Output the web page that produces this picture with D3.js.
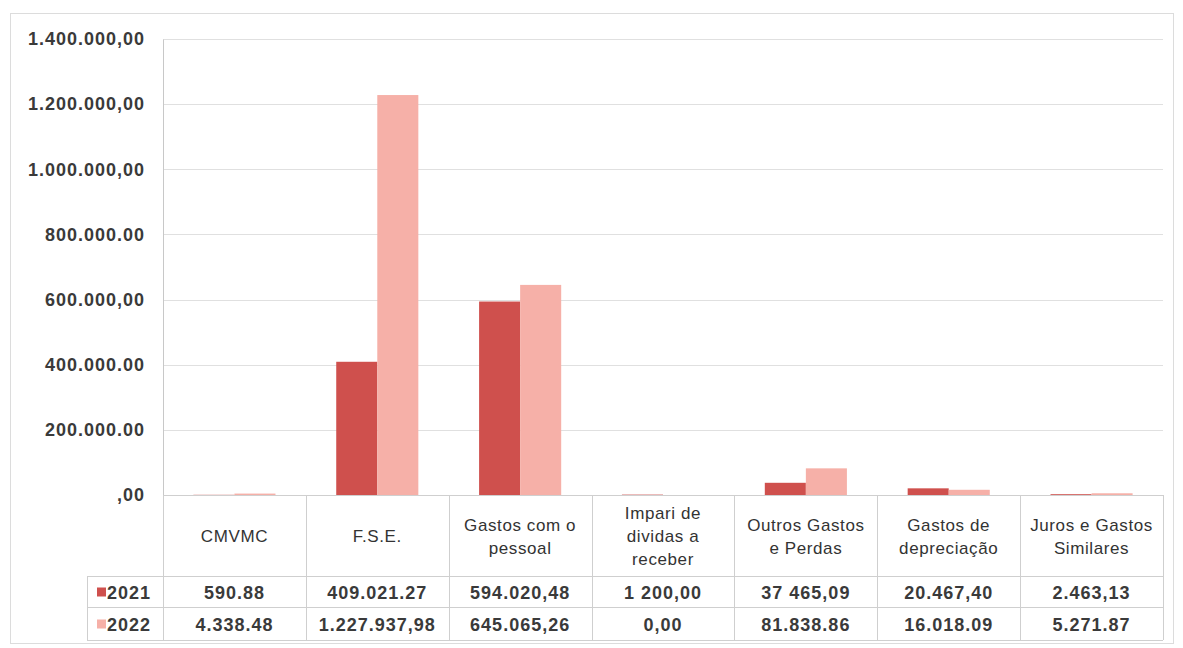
<!DOCTYPE html>
<html><head><meta charset="utf-8">
<script src="https://cdn.jsdelivr.net/npm/d3@7"></script>
<style>body{margin:0;background:#fff}svg{display:block}</style>
</head><body><svg id="c" width="1183" height="648"></svg>
<script>
const categories = ["CMVMC","F.S.E.","Gastos com o\npessoal","Impari de\ndividas a\nreceber","Outros Gastos\ne Perdas","Gastos de\ndepreciação","Juros e Gastos\nSimilares"];
const series = ["2021","2022"];
const values2021 = [590.88, 409021.27, 594020.48, 1200.00, 37465.09, 20467.40, 2463.13];
const values2022 = [4338.48, 1227937.98, 645065.26, 0.00, 81838.86, 16018.09, 5271.87];
const labels2021 = ["590.88","409.021.27","594.020,48","1 200,00","37 465,09","20.467,40","2.463,13"];
const labels2022 = ["4.338.48","1.227.937,98","645.065,26","0,00","81.838.86","16.018.09","5.271.87"];
const yTicks = [0,200000,400000,600000,800000,1000000,1200000,1400000];
const yTickLabels = [",00","200.000.00","400.000.00","600.000,00","800.000.00","1.000.000,00","1.200.000,00","1.400.000,00"];
const colors = ["#cf504d","#f6b0a8"];

const svg = d3.select("#c");
const L=163, R=1163, T=39, B=495;
const y = d3.scaleLinear().domain([0,1400000]).range([B,T]);
const x = d3.scaleBand().domain(categories).range([L,R]).padding(0);
const xs = d3.scaleBand().domain(series).range([0,x.bandwidth()]).paddingInner(0).paddingOuter(0.74);
const FONT="Liberation Sans, Arial, sans-serif";

// outer frame
svg.append("rect").attr("x",10.5).attr("y",13.5).attr("width",1163).attr("height",630)
  .attr("fill","none").attr("stroke","#dcdcdc");

// gridlines
svg.append("g").selectAll("line").data(yTicks.slice(1)).join("line")
  .attr("x1",L).attr("x2",R).attr("y1",d=>Math.round(y(d))+0.5).attr("y2",d=>Math.round(y(d))+0.5)
  .attr("stroke","#e0e0e0").attr("stroke-width",1);

// y axis labels
const yAxis = d3.axisLeft(y).tickValues(yTicks).tickSize(0).tickPadding(18)
  .tickFormat((d,i)=>yTickLabels[i]);
const ga = svg.append("g").attr("transform",`translate(${L},0)`).call(yAxis);
ga.select(".domain").attr("stroke","#c8c8c8");
ga.selectAll("text").attr("font-family",FONT)
  .attr("font-size",18).attr("font-weight","bold").attr("fill","#3a3a3a").attr("letter-spacing","1px");

// bars
const data = categories.map((c,i)=>({c, v:[values2021[i],values2022[i]]}));
const gb = svg.append("g");
data.forEach(d=>{
  series.forEach((s,j)=>{
    gb.append("rect").attr("x",x(d.c)+xs(s)).attr("width",xs.bandwidth())
      .attr("y",y(d.v[j])).attr("height",B-y(d.v[j])).attr("fill",colors[j]);
  });
});

// data table
const rowTop=[495,576,607], rowBot=640, legL=87;
const gt = svg.append("g").attr("stroke","#cfcfcf").attr("fill","none");
gt.append("line").attr("x1",L).attr("x2",R).attr("y1",B+0.5).attr("y2",B+0.5);
[576,607,640].forEach(yy=>gt.append("line").attr("x1",legL).attr("x2",R).attr("y1",yy+0.5).attr("y2",yy+0.5));
gt.append("line").attr("x1",legL+0.5).attr("x2",legL+0.5).attr("y1",576).attr("y2",rowBot);
categories.forEach(c=>{
  gt.append("line").attr("x1",Math.round(x(c))+0.5).attr("x2",Math.round(x(c))+0.5).attr("y1",B).attr("y2",rowBot);
});
gt.append("line").attr("x1",R+0.5).attr("x2",R+0.5).attr("y1",B).attr("y2",rowBot);

// headers
const gh = svg.append("g").attr("font-family",FONT).attr("font-size",17)
  .attr("fill","#333").attr("text-anchor","middle").attr("letter-spacing","0.6px");
categories.forEach(c=>{
  const lines=c.split("\n");
  const lh=23, cy=(495+576)/2+1;
  const t=gh.append("text").attr("x",x(c)+x.bandwidth()/2);
  lines.forEach((ln,k)=>{
    t.append("tspan").attr("x",x(c)+x.bandwidth()/2)
      .attr("y",cy+(k-(lines.length-1)/2)*lh).attr("dy","0.35em").text(ln);
  });
});

// values
const gv = svg.append("g").attr("font-family",FONT).attr("font-size",18)
  .attr("font-weight","bold").attr("fill","#3a3a3a").attr("text-anchor","middle").attr("letter-spacing","1px");
[labels2021,labels2022].forEach((labs,j)=>{
  const cy=(rowTop[j+1]+(j===0?607:640))/2+1;
  categories.forEach((c,i)=>{
    gv.append("text").attr("x",x(c)+x.bandwidth()/2).attr("y",cy).attr("dy","0.35em").text(labs[i]);
  });
  // legend
  svg.append("rect").attr("x",97).attr("y",cy-5).attr("width",9).attr("height",9).attr("fill",colors[j]);
  svg.append("text").attr("x",107).attr("y",cy).attr("dy","0.35em")
    .attr("font-family",FONT).attr("font-size",18).attr("font-weight","bold")
    .attr("fill","#3a3a3a").attr("letter-spacing","1px").text(series[j]);
});
</script></body></html>
